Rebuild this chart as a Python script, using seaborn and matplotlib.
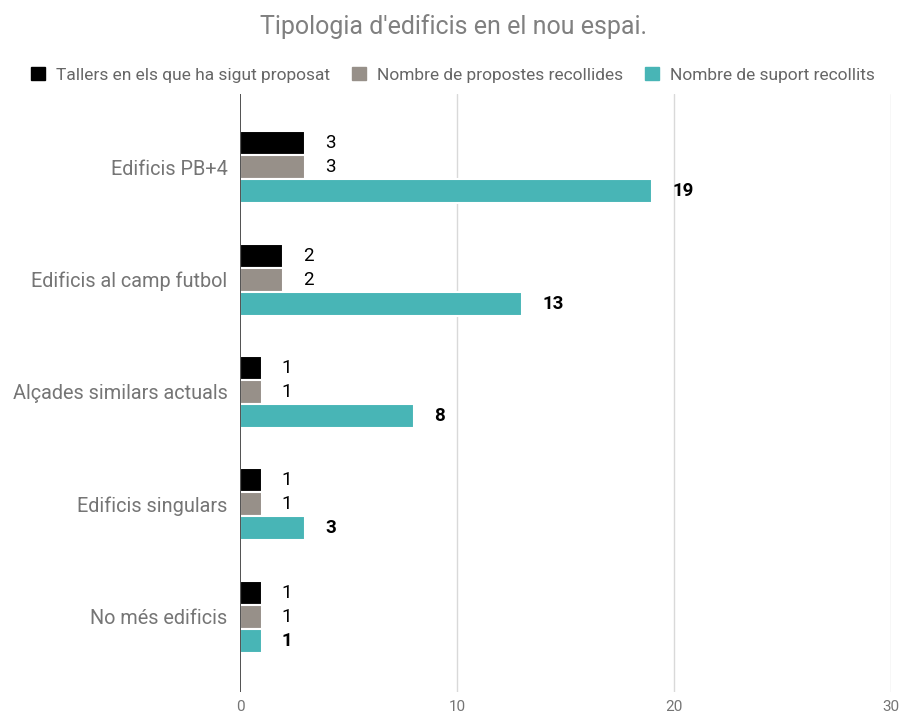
import pandas as pd
import matplotlib.pyplot as plt
import seaborn as sns

categories = ['Edificis PB+4', 'Edificis al camp futbol', 'Alçades similars actuals',
              'Edificis singulars', 'No més edificis']
series_names = ['Tallers en els que ha sigut proposat', 'Nombre de propostes recollides',
                'Nombre de suport recollits']
tallers = [3, 2, 1, 1, 1]
propostes = [3, 2, 1, 1, 1]
suports = [19, 13, 8, 3, 1]
colors = ['#000000', '#979089', '#48b5b6']
x_ticks = [0, 10, 20, 30]

rows = []
for name, vals in zip(series_names, [tallers, propostes, suports]):
    for cat, v in zip(categories, vals):
        rows.append({'categoria': cat, 'serie': name, 'valor': v})
df = pd.DataFrame(rows)

sns.set_style('white')
plt.rcParams['font.family'] = ['Roboto', 'DejaVu Sans']

fig = plt.figure(figsize=(9.06, 7.14), dpi=100)
ax = fig.add_axes([240 / 906, 1 - 692 / 714, (891 - 240) / 906, (692 - 94) / 714])

sns.barplot(data=df, x='valor', y='categoria', hue='serie', order=categories,
            hue_order=series_names, palette=colors, orient='h', width=0.64,
            edgecolor='white', linewidth=1.5, saturation=1, ax=ax, legend=False)

ax.set_xlim(0, 30)
ax.set_ylim(4.67, -0.652)
ax.set_xticks(x_ticks)
ax.set_xticklabels([str(t) for t in x_ticks], color='#757575', fontsize=11)
ax.tick_params(axis='x', length=0, pad=6)
ax.tick_params(axis='y', length=0, pad=9, labelsize=14.3, labelcolor='#757575')
ax.set_xlabel('')
ax.set_ylabel('')
for s in ax.spines.values():
    s.set_visible(False)
for t in x_ticks[1:]:
    ax.axvline(t, color='#d9d9d9', lw=1, zorder=0)
ax.axvline(0, color='#333333', lw=1.2, zorder=3)

for i, cont in enumerate(ax.containers):
    bold = i == 2
    for bar in cont:
        w = bar.get_width()
        y = bar.get_y() + bar.get_height() / 2
        ax.annotate(f'{int(w)}', xy=(w, y), xytext=(14.5, 0), textcoords='offset points',
                    va='center', ha='left', fontsize=13.5, color='#000000',
                    fontweight='bold' if bold else 'normal')

handles = [plt.Rectangle((0, 0), 1, 1, color=c) for c in colors]
fig.legend(handles, series_names, loc='center', bbox_to_anchor=(0.5, 1 - 75 / 714),
           ncol=3, frameon=False, fontsize=12.5, handlelength=0.8, handleheight=0.8,
           handletextpad=0.6, columnspacing=1.3, labelcolor='#666666')

fig.text(0.5, 1 - 27 / 714, "Tipologia d'edificis en el nou espai.", ha='center', va='center',
         fontsize=18, color='#808080')

fig.savefig('out.png', dpi=100)
